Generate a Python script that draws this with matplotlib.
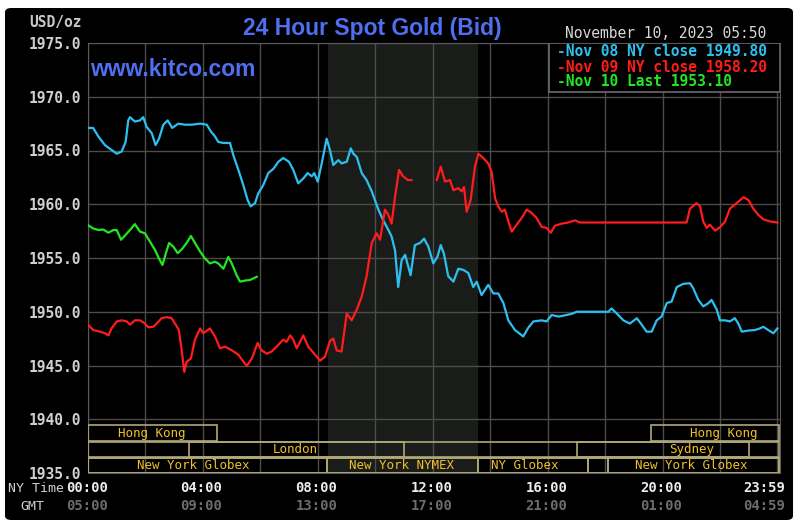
import matplotlib
matplotlib.use("Agg")
import matplotlib.pyplot as plt
import numpy as np
from matplotlib.patches import Rectangle, FancyBboxPatch

# ---- data (hours since NY midnight, USD/oz) ----
nov08_t = [0.0, 0.18, 0.36, 0.59, 0.82, 1.0, 1.17, 1.31, 1.40, 1.46, 1.63, 1.81, 1.92, 2.04,
           2.22, 2.35, 2.47, 2.62, 2.77, 2.93, 3.14, 3.37, 3.61, 3.90, 4.13, 4.28, 4.42, 4.53,
           4.71, 4.94, 5.05, 5.23, 5.40, 5.55, 5.66, 5.81, 5.92, 6.10, 6.27, 6.45, 6.62, 6.79,
           6.99, 7.14, 7.31, 7.49, 7.64, 7.78, 7.87, 7.99, 8.13, 8.30, 8.42, 8.53, 8.71, 8.82,
           9.00, 9.14, 9.23, 9.35, 9.52, 9.69, 9.87, 9.98, 10.10, 10.27, 10.45, 10.56, 10.68,
           10.79, 10.91, 11.03, 11.11, 11.22, 11.37, 11.55, 11.69, 11.84, 12.01, 12.15, 12.27,
           12.38, 12.53, 12.71, 12.88, 13.05, 13.23, 13.40, 13.52, 13.69, 13.92, 14.10, 14.27,
           14.45, 14.62, 14.85, 15.14, 15.31, 15.49, 15.78, 15.95, 16.13, 16.36, 16.65, 16.82,
           17.00, 18.10, 18.21, 18.39, 18.62, 18.85, 19.09, 19.26, 19.43, 19.61, 19.78, 19.95,
           20.13, 20.30, 20.48, 20.71, 20.94, 21.05, 21.23, 21.40, 21.58, 21.69, 21.87, 21.98,
           22.16, 22.33, 22.50, 22.62, 22.74, 22.97, 23.20, 23.37, 23.49, 23.66, 23.84, 23.98]
nov08_v = [1967.1, 1967.1, 1966.3, 1965.5, 1965.05, 1964.7, 1964.9, 1965.8, 1967.8, 1968.1,
           1967.7, 1967.8, 1968.1, 1967.2, 1966.6, 1965.5, 1966.1, 1967.4, 1967.8, 1967.1,
           1967.5, 1967.4, 1967.4, 1967.5, 1967.4, 1966.75, 1966.3, 1965.8, 1965.7, 1965.7,
           1964.6, 1963.2, 1961.8, 1960.4, 1959.8, 1960.1, 1961.0, 1961.8, 1962.9, 1963.3,
           1963.95, 1964.3, 1963.95, 1963.2, 1961.95, 1962.4, 1962.9, 1962.6, 1962.9, 1962.1,
           1963.8, 1966.1, 1965.0, 1963.65, 1964.1, 1963.8, 1963.95, 1965.2, 1964.7, 1964.4,
           1962.9, 1962.25, 1961.2, 1960.4, 1959.5, 1958.5, 1957.6, 1957.0, 1955.7, 1952.3,
           1954.8, 1955.3, 1954.5, 1953.4, 1956.2, 1956.4, 1956.8, 1956.05, 1954.5, 1955.1,
           1956.2, 1955.4, 1953.3, 1952.8, 1954.0, 1953.9, 1953.6, 1952.3, 1952.8, 1951.55,
           1952.5, 1951.7, 1951.7, 1950.8, 1949.2, 1948.3, 1947.7, 1948.5, 1949.1, 1949.2,
           1949.1, 1949.7, 1949.55, 1949.7, 1949.8, 1950.0, 1950.0, 1950.3, 1949.85, 1949.2,
           1948.9, 1949.4, 1948.8, 1948.15, 1948.15, 1949.2, 1949.55, 1950.8, 1950.95, 1952.3,
           1952.6, 1952.65, 1952.2, 1951.1, 1950.5, 1950.8, 1951.1, 1950.2, 1949.2, 1949.2,
           1949.1, 1949.4, 1948.9, 1948.15, 1948.25, 1948.3, 1948.45, 1948.6, 1948.3, 1948.0,
           1948.45]

nov09_t = [0.0, 0.18, 0.42, 0.59, 0.71, 0.82, 1.0, 1.17, 1.35, 1.46, 1.63, 1.81, 1.98, 2.10,
           2.27, 2.39, 2.56, 2.74, 2.91, 3.05, 3.16, 3.26, 3.35, 3.43, 3.58, 3.72, 3.90, 4.01,
           4.24, 4.42, 4.59, 4.77, 5.01, 5.23, 5.52, 5.70, 5.90, 6.04, 6.22, 6.39, 6.56, 6.79,
           6.91, 7.03, 7.14, 7.26, 7.49, 7.66, 7.90, 8.07, 8.24, 8.42, 8.53, 8.65, 8.82, 9.00,
           9.17, 9.35, 9.52, 9.69, 9.87, 10.04, 10.16, 10.33, 10.45, 10.56, 10.68, 10.82, 10.96,
           11.13, 11.25, 11.70, 12.13, 12.27, 12.42, 12.59, 12.71, 12.88, 13.00, 13.08, 13.17,
           13.31, 13.46, 13.58, 13.75, 13.92, 14.04, 14.16, 14.27, 14.39, 14.50, 14.62, 14.74,
           14.91, 15.08, 15.26, 15.43, 15.61, 15.78, 15.95, 16.10, 16.24, 16.48, 16.70, 16.94,
           17.11, 20.82, 20.94, 21.17, 21.29, 21.40, 21.52, 21.63, 21.81, 21.98, 22.16, 22.33,
           22.56, 22.80, 22.97, 23.14, 23.32, 23.49, 23.72, 23.98]
nov09_v = [1948.8, 1948.3, 1948.15, 1948.0, 1947.8, 1948.45, 1949.1, 1949.2, 1949.1, 1948.8,
           1949.2, 1949.2, 1948.9, 1948.55, 1948.6, 1948.9, 1949.4, 1949.5, 1949.4, 1948.8,
           1948.3, 1946.4, 1944.4, 1945.35, 1945.65, 1947.4, 1948.45, 1948.0, 1948.45, 1947.7,
           1946.6, 1946.75, 1946.4, 1946.0, 1944.95, 1945.65, 1947.1, 1946.4, 1946.1, 1946.3,
           1946.75, 1947.4, 1947.2, 1947.8, 1947.4, 1946.6, 1947.8, 1946.75, 1946.0, 1945.45,
           1945.8, 1947.3, 1947.5, 1946.4, 1946.3, 1949.85, 1949.2, 1950.2, 1951.4, 1953.3,
           1956.4, 1957.3, 1956.7, 1959.5, 1959.0, 1958.2, 1960.7, 1963.2, 1962.6, 1962.25,
           1962.25, np.nan, 1962.25, 1963.5, 1962.1, 1962.25, 1961.3, 1961.5, 1961.2, 1961.6,
           1959.3, 1960.4, 1963.5, 1964.7, 1964.3, 1963.8, 1963.0, 1960.55, 1959.8, 1959.3,
           1959.5, 1958.4, 1957.45, 1958.1, 1958.7, 1959.5, 1959.2, 1958.7, 1957.9, 1957.8,
           1957.35, 1958.0, 1958.2, 1958.3, 1958.5, 1958.3, 1958.3, 1959.6, 1960.1, 1959.8,
           1958.4, 1957.8, 1958.1, 1957.55, 1957.85, 1958.4, 1959.6, 1960.1, 1960.65, 1960.4,
           1959.6, 1959.0, 1958.6, 1958.4, 1958.3]

nov10_t = [0.0, 0.18, 0.36, 0.53, 0.71, 0.88, 1.0, 1.15, 1.29, 1.46, 1.63, 1.81, 1.98, 2.16,
           2.33, 2.47, 2.59, 2.71, 2.82, 2.97, 3.12, 3.26, 3.43, 3.58, 3.72, 3.90, 4.07, 4.24,
           4.42, 4.53, 4.71, 4.88, 5.00, 5.17, 5.29, 5.46, 5.63, 5.87]
nov10_v = [1958.05, 1957.75, 1957.6, 1957.65, 1957.35, 1957.6, 1957.6, 1956.7, 1957.1, 1957.6,
           1958.15, 1957.45, 1957.3, 1956.5, 1955.75, 1954.95, 1954.35, 1955.45, 1956.4, 1956.05,
           1955.45, 1955.8, 1956.4, 1957.05, 1956.4, 1955.6, 1954.95, 1954.5, 1954.65, 1954.5,
           1954.0, 1955.1, 1954.5, 1953.4, 1952.8, 1952.9, 1952.95, 1953.25]

legend_labels = ["-Nov 08 NY close 1949.80", "-Nov 09 NY close 1958.20", "-Nov 10 Last 1953.10"]

tick_hours = [0, 4, 8, 12, 16, 20, 23.983]
ny_labels = ["00:00", "04:00", "08:00", "12:00", "16:00", "20:00", "23:59"]
gmt_labels = ["05:00", "09:00", "13:00", "17:00", "21:00", "01:00", "04:59"]

# session name, start hour, end hour, row (0 = top)
sessions = [("Hong Kong", 0.0, 4.5, 0), ("London", 3.5, 11.0, 1),
            ("New York Globex", 0.0, 8.33, 2), ("New York NYMEX", 8.33, 13.55, 2),
            ("NY Globex", 13.55, 17.4, 2), ("", 17.4, 18.07, 2),
            ("New York Globex", 18.07, 24.05, 2), ("Sydney", 17.0, 23.0, 1),
            ("Hong Kong", 19.6, 24.05, 0)]
label_hours = [2.23, 7.2, 3.65, 10.92, 15.2, None, 21.0, 21.0, 22.1]
nymex_span = (8.35, 13.57)

MONO = "DejaVu Sans Mono"
W, H = 798, 523

fig = plt.figure(figsize=(W / 100, H / 100), dpi=100)
fig.patch.set_facecolor("white")
bg = FancyBboxPatch((5 / W, 3 / H), 788 / W, 512 / H, boxstyle="round,pad=0,rounding_size=0.008",
                    transform=fig.transFigure, facecolor="black", edgecolor="none", zorder=-5)
fig.patches.append(bg)

ax = fig.add_axes([88 / W, 50 / H, 692 / W, 430 / H])
ax.set_facecolor("black")
ax.set_xlim(0, 24.07)
ax.set_ylim(1935, 1975)

ax.axvspan(*nymex_span, color="#1a1c1a", zorder=0, lw=0)

ax.set_yticks(np.arange(1935, 1976, 5))
ax.set_yticklabels(["%.1f" % v for v in np.arange(1935, 1976, 5)],
                   family=MONO, fontweight="bold", fontsize=10.5, color="#d0d0d0")
ax.set_xticks(tick_hours)
ax.set_xticklabels([])
ax.set_xticks([2, 6, 10, 14, 18, 22], minor=True)
ax.tick_params(axis="both", which="both", length=0)
ax.tick_params(axis="y", pad=5)
ax.grid(True, which="both", color="#4c4c4c", lw=1, zorder=1)
ax.set_axisbelow(True)
for sp in ax.spines.values():
    sp.set_color("#5a5a5a")

# time labels: NY time row and GMT row
xt = ax.get_xaxis_transform()
for i, (h, ny, g) in enumerate(zip(tick_hours, ny_labels, gmt_labels)):
    lx = h - 0.45 if i == len(tick_hours) - 1 else h - 0.05
    ax.text(lx, -0.036, ny, transform=xt, ha="center", va="center", fontsize=10,
            family=MONO, fontweight="bold", color="#ececec", clip_on=False)
    ax.text(lx, -0.077, g, transform=xt, ha="center", va="center", fontsize=10,
            family=MONO, fontweight="bold", color="#6c6c6c", clip_on=False)
fig.text(8 / W, 1 - 489 / H, "NY Time", family=MONO, fontsize=9.5, color="#d0d0d0",
         ha="left", va="center")
fig.text(20 / W, 1 - 506 / H, "GMT", family=MONO, fontsize=9.5, color="#d0d0d0",
         ha="left", va="center")

# session rows
row_y = [(0.0744, 0.1116), (0.0372, 0.072), (0.0, 0.0349)]
box_col = "#b0a878"
for r in (1, 2):
    y0, y1 = row_y[r]
    ax.add_patch(Rectangle((0, y0), 24.05, y1 - y0, transform=xt, fill=False,
                           ec=box_col, lw=1.2, zorder=3))
for (name, s, e, r), lx in zip(sessions, label_hours):
    y0, y1 = row_y[r]
    ax.add_patch(Rectangle((s, y0), e - s, y1 - y0, transform=xt, fill=False,
                           ec=box_col, lw=1.2, zorder=3))
    if name:
        ax.text(lx, (y0 + y1) / 2, name, transform=xt, ha="center", va="center",
                fontsize=9, family=MONO, color="#f0c028", zorder=4)

# price lines
ax.plot(nov08_t, nov08_v, color="#2cc0f0", lw=1.6, zorder=5)
ax.plot(nov09_t, nov09_v, color="#ff1c1c", lw=1.6, zorder=5)
ax.plot(nov10_t, nov10_v, color="#22e622", lw=1.6, zorder=5)

# legend box
ax.add_patch(Rectangle((0.666, 0.886), 0.334, 0.114, transform=ax.transAxes,
                       facecolor="black", ec="#6a6a6a", lw=1.2, zorder=6))
for lbl, col, yy in zip(legend_labels, ["#2cc0f0", "#ff1c1c", "#22e622"], [52, 67, 82]):
    fig.text(557 / W, 1 - yy / H, lbl, family=MONO, fontweight="bold", fontsize=10.5,
             color=col, ha="left", va="center", zorder=7)

# header texts
fig.text(372 / W, 1 - 28 / H, "24 Hour Spot Gold (Bid)", family="Liberation Sans",
         fontweight="bold", fontsize=16.5, color="#4f6ff0", ha="center", va="center")
fig.text(90 / W, 1 - 70 / H, "www.kitco.com", family="Liberation Sans",
         fontweight="bold", fontsize=16.5, color="#4f6ff0", ha="left", va="center", zorder=7)
fig.text(82 / W, 1 - 22 / H, "USD/oz", family=MONO, fontweight="bold", fontsize=10.5,
         color="#c8c8c8", ha="right", va="center")
fig.text(565 / W, 1 - 33 / H, "November 10, 2023 05:50", family=MONO, fontsize=10.5,
         color="#d8d8d8", ha="left", va="center")

fig.savefig("out.png", dpi=100)
